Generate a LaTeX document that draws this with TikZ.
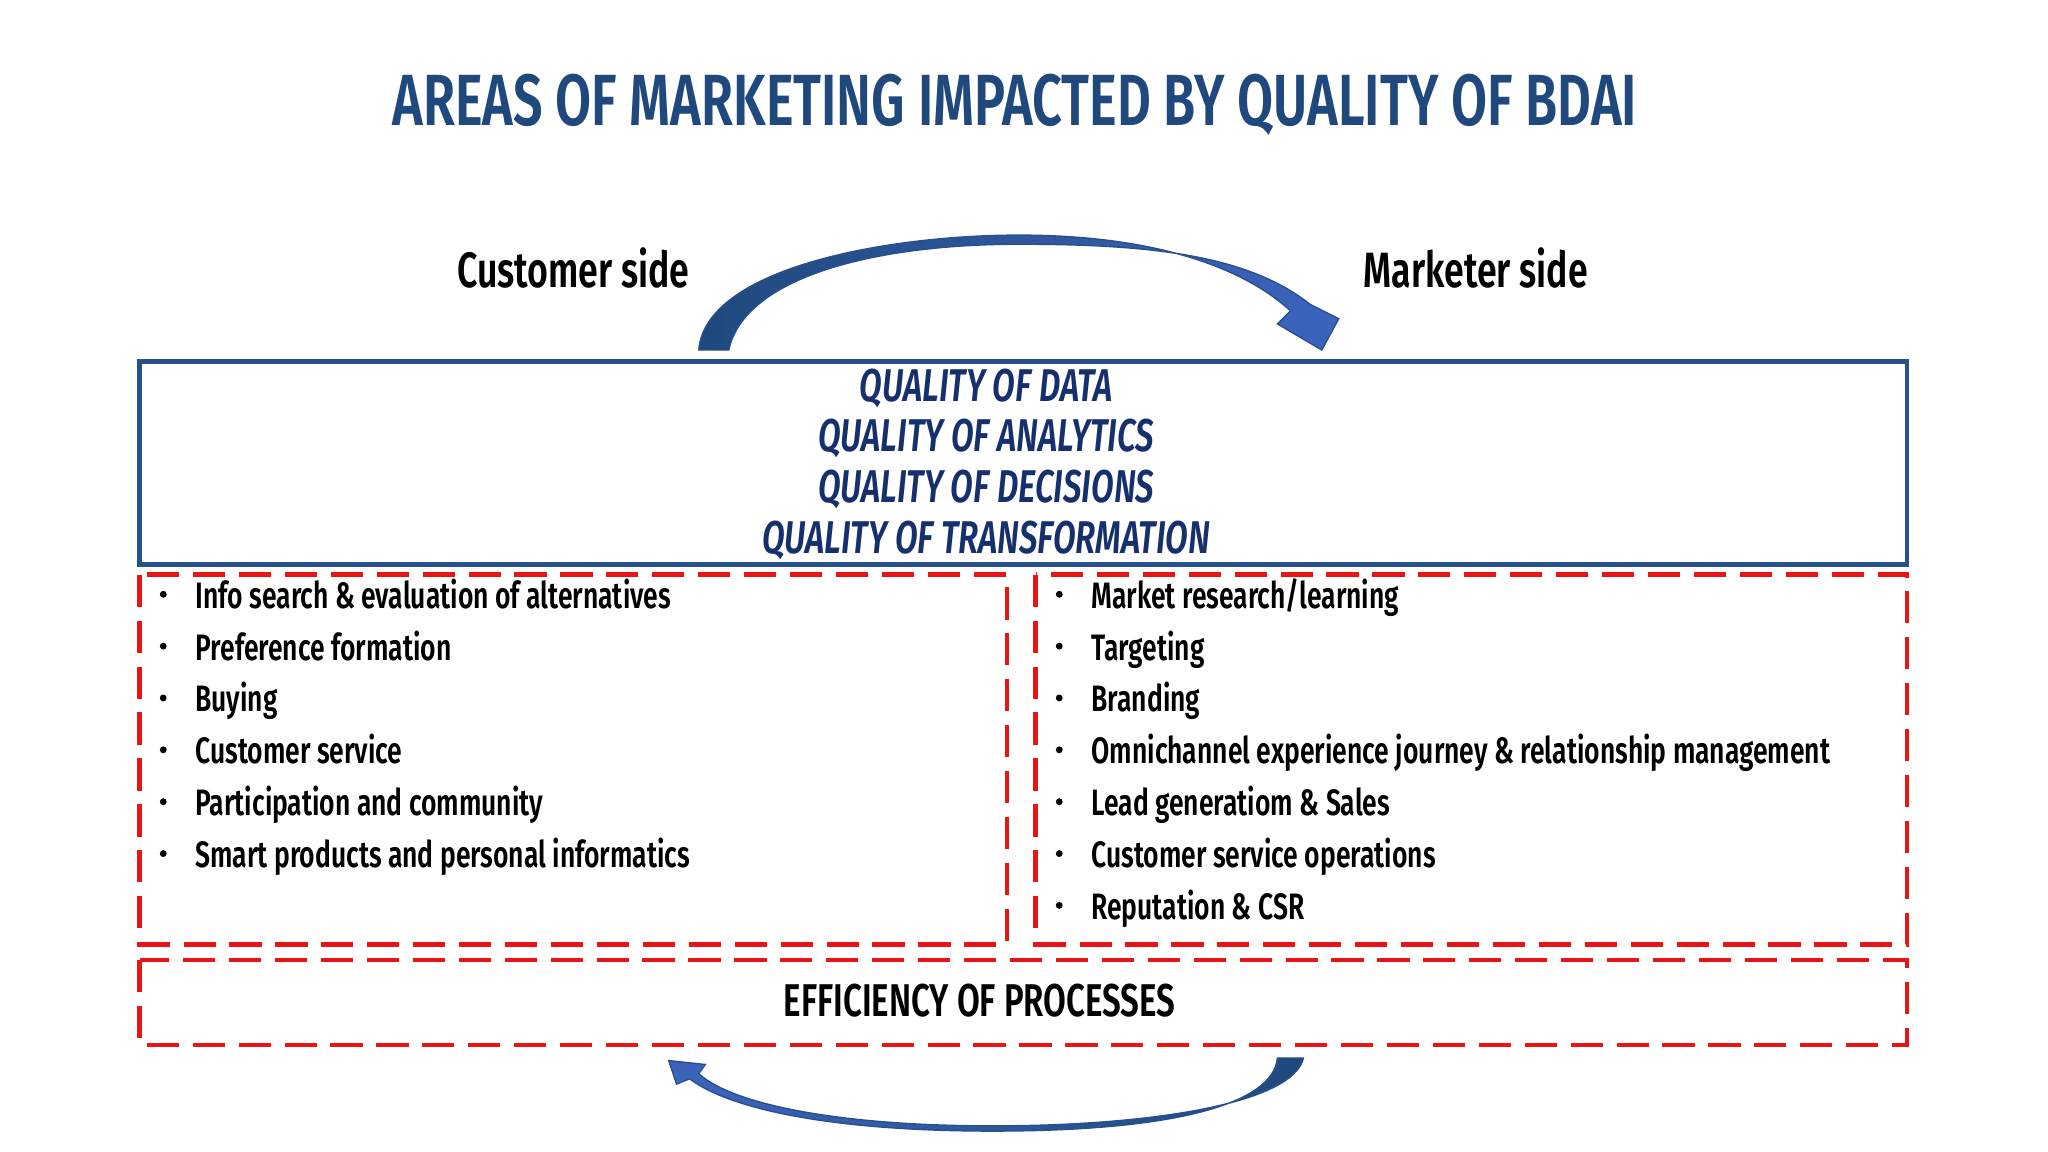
\documentclass[tikz,border=0pt]{standalone}
\usepackage{fontspec}
\setmainfont{Fira Sans}[FakeStretch=0.72]
\newfontfamily\condbold{Fira Sans SemiBold}[FakeStretch=0.72]
\definecolor{titleblue}{RGB}{31,73,125}
\definecolor{qblue}{RGB}{22,48,110}
\definecolor{boxblue}{RGB}{40,80,140}
\definecolor{arrowblue}{RGB}{60,100,190}
\definecolor{dred}{RGB}{235,20,20}
\tikzset{
  redbox/.style={draw=dred, line width=1pt, dash pattern=on 7pt off 3pt},
  bul/.style={anchor=west, font=\fontsize{8}{9}\selectfont\condbold, inner sep=0pt, text height=1.6ex, text depth=0.45ex},
  dot/.style={circle, fill=black, inner sep=0pt, minimum size=1.5pt},
  qual/.style={font=\fontsize{10}{11}\selectfont\condbold\itshape, text=qblue, inner sep=0pt},
}
\begin{document}
\begin{tikzpicture}[x=0.01cm,y=-0.01cm]
\useasboundingbox (0,0) rectangle (1568,882);
\fill[white] (0,0) rectangle (1568,882);
\node[font=\fontsize{15.8}{17}\selectfont\condbold, text=titleblue] (title) at (777,80) {AREAS OF MARKETING IMPACTED BY QUALITY OF BDAI};
\node[font=\fontsize{10.8}{12}\selectfont\condbold] (cs) at (439,205) {Customer side};
\node[font=\fontsize{10.8}{12}\selectfont\condbold] (ms) at (1130,205) {Marketer side};
% top arrow
\shade[left color=titleblue, right color=arrowblue, draw=boxblue, line width=0.3pt]
 (535,268) .. controls (540,205) and (680,180) .. (780,180) .. controls (880,180) and (950,203) .. (988,238)
 -- (978,248) -- (1012,268) -- (1025,244) -- (1003,233)
 .. controls (955,195) and (880,187) .. (780,187) .. controls (670,187) and (570,212) .. (558,268) -- cycle;
% bottom arrow
\shade[left color=arrowblue, right color=titleblue, draw=boxblue, line width=0.3pt]
 (998,810) .. controls (990,845) and (880,862) .. (760,862) .. controls (640,862) and (560,845) .. (535,822)
 -- (540,815) -- (512,812) -- (518,830) -- (528,826)
 .. controls (560,850) and (640,866) .. (760,866) .. controls (900,866) and (975,845) .. (978,810) -- cycle;
% quality box
\draw[boxblue, line width=1pt] (107,277) rectangle (1460,432);
\node[qual] (q1) at (755,297) {QUALITY OF DATA};
\node[qual] (q2) at (755,336) {QUALITY OF ANALYTICS};
\node[qual] (q3) at (755,375) {QUALITY OF DECISIONS};
\node[qual] (q4) at (755,414) {QUALITY OF TRANSFORMATION};
% red boxes
\draw[redbox] (107,440) rectangle (771,723);
\draw[redbox] (793,440) rectangle (1460,723);
\draw[redbox] (107,735) rectangle (1460,800);
\foreach \t [count=\i] in {Info search \& evaluation of alternatives, Preference formation, Buying, Customer service, Participation and community, Smart products and personal informatics}{
  \node[bul] (l\i) at (149,{455+39.7*(\i-1)}) {\t};
  \node[dot] at (125,{455+39.7*(\i-1)}) {};
}
\foreach \t [count=\i] in {Market research/learning, Targeting, Branding, Omnichannel experience journey \& relationship management, Lead generatiom \& Sales, Customer service operations, Reputation \& CSR}{
  \node[bul] (r\i) at (835,{455+39.7*(\i-1)}) {\t};
  \node[dot] at (811,{455+39.7*(\i-1)}) {};
}
\node[font=\fontsize{10}{11}\selectfont\condbold] (eff) at (750,766) {EFFICIENCY OF PROCESSES};
\end{tikzpicture}
\end{document}
